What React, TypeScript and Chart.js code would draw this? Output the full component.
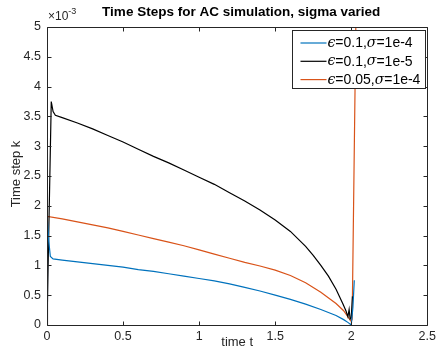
import React, { useEffect, useRef } from "react";
import { Chart, registerables } from "chart.js";

Chart.register(...registerables);

const FONT = "Helvetica, Arial, 'Liberation Sans', sans-serif";

const chartTitle = "Time Steps for AC simulation, sigma varied";
const xTitle = "time t";
const yTitle = "Time step k";
const yExponent = "-3";

const xTicks = [0, 0.5, 1, 1.5, 2, 2.5];
const yTicks = [0, 0.5, 1, 1.5, 2, 2.5, 3, 3.5, 4, 4.5, 5];

const seriesLabels = ["ϵ=0.1,σ=1e-4", "ϵ=0.1,σ=1e-5", "ϵ=0.05,σ=1e-4"];

// time t values and time step k values (in units of 1e-3)
const tBlue = [0, 0.003, 0.012, 0.022, 0.04, 0.1, 0.2, 0.3, 0.4, 0.5, 0.6, 0.7, 0.8, 0.9, 1.0, 1.1, 1.2, 1.3, 1.4, 1.5, 1.6, 1.7, 1.8, 1.85, 1.9, 1.95, 1.98, 2.0, 2.011, 2.02];
const kBlue = [0, 1.75, 1.4, 1.15, 1.11, 1.09, 1.06, 1.03, 1.0, 0.97, 0.93, 0.9, 0.86, 0.82, 0.78, 0.74, 0.69, 0.63, 0.57, 0.5, 0.43, 0.35, 0.26, 0.21, 0.16, 0.09, 0.04, 0.0, 0.3, 0.75];

const tBlack = [0, 0.028, 0.04, 0.055, 0.1, 0.2, 0.3, 0.4, 0.5, 0.6, 0.7, 0.8, 0.9, 1.0, 1.1, 1.2, 1.3, 1.4, 1.5, 1.6, 1.7, 1.75, 1.8, 1.85, 1.9, 1.944, 1.965, 1.978, 1.986, 1.993, 2.0, 2.008];
const kBlack = [0, 3.75, 3.58, 3.52, 3.48, 3.39, 3.29, 3.18, 3.07, 2.95, 2.83, 2.72, 2.6, 2.48, 2.36, 2.22, 2.08, 1.93, 1.76, 1.57, 1.32, 1.17, 1.0, 0.82, 0.6, 0.36, 0.24, 0.14, 0.26, 0.1, 0.12, 0.48];

const tOrange = [0, 0.003, 0.1, 0.2, 0.3, 0.4, 0.5, 0.6, 0.7, 0.8, 0.9, 1.0, 1.1, 1.2, 1.3, 1.4, 1.5, 1.6, 1.7, 1.8, 1.9, 1.95, 1.98, 2.0, 2.006, 2.03, 2.032];
const kOrange = [0, 1.82, 1.78, 1.73, 1.68, 1.63, 1.57, 1.51, 1.45, 1.39, 1.33, 1.26, 1.19, 1.12, 1.05, 0.99, 0.92, 0.83, 0.71, 0.55, 0.36, 0.24, 0.13, 0.06, 0.1, 5.0, 5.2];

const seriesT = [tBlue, tBlack, tOrange];
const seriesK = [kBlue, kBlack, kOrange];
const seriesColors = ["#0072BD", "#000000", "#D95319"];

const AXIS_COLOR = "#262626";

function drawMixed(ctx: CanvasRenderingContext2D, text: string, x: number, y: number) {
  let cx = x;
  for (const ch of text) {
    const greek = ch === "ϵ" || ch === "σ";
    ctx.font = greek ? "italic 14px 'DejaVu Serif', 'Liberation Serif', serif" : `14px ${FONT}`;
    ctx.fillText(ch, cx, y);
    cx += ctx.measureText(ch).width;
  }
}

const decorPlugin = {
  id: "decor",
  afterDraw(chart: any) {
    const { ctx, chartArea: ca, scales } = chart;
    const xs = scales.x;
    const ys = scales.y;
    ctx.save();
    // box
    ctx.strokeStyle = AXIS_COLOR;
    ctx.lineWidth = 1;
    const L = Math.round(ca.left) + 0.5;
    const R = Math.round(ca.right) + 0.5;
    const T = Math.round(ca.top) + 0.5;
    const B = Math.round(ca.bottom) + 0.5;
    ctx.beginPath();
    ctx.rect(L, T, R - L, B - T);
    ctx.stroke();
    // ticks inward
    const tl = 4;
    ctx.beginPath();
    for (const v of xTicks) {
      const px = Math.round(xs.getPixelForValue(v)) + 0.5;
      ctx.moveTo(px, B);
      ctx.lineTo(px, B - tl);
      ctx.moveTo(px, T);
      ctx.lineTo(px, T + tl);
    }
    for (const v of yTicks) {
      const py = Math.round(ys.getPixelForValue(v)) + 0.5;
      ctx.moveTo(L, py);
      ctx.lineTo(L + tl, py);
      ctx.moveTo(R, py);
      ctx.lineTo(R - tl, py);
    }
    ctx.stroke();

    // title
    ctx.fillStyle = "#000000";
    ctx.font = `bold 13.5px ${FONT}`;
    ctx.textAlign = "center";
    ctx.textBaseline = "middle";
    ctx.fillText(chartTitle, (ca.left + ca.right) / 2 + 4, 12);

    // exponent label
    ctx.fillStyle = AXIS_COLOR;
    ctx.textAlign = "left";
    ctx.textBaseline = "alphabetic";
    ctx.font = `12px ${FONT}`;
    ctx.fillText("×10", ca.left + 1, ca.top - 7);
    const w = ctx.measureText("×10").width;
    ctx.font = `9px ${FONT}`;
    ctx.fillText(yExponent, ca.left + 1 + w, ca.top - 13);

    // axis titles
    ctx.font = `13px ${FONT}`;
    ctx.textAlign = "center";
    ctx.textBaseline = "middle";
    ctx.fillText(xTitle, (ca.left + ca.right) / 2, 342);
    ctx.save();
    ctx.translate(16, (ca.top + ca.bottom) / 2 - 2);
    ctx.rotate(-Math.PI / 2);
    ctx.fillText(yTitle, 0, 0);
    ctx.restore();

    // legend
    const bw = 133;
    const bh = 58;
    const bx = Math.round(ca.right - 2 - bw) + 0.5;
    const by = Math.round(ca.top + 3) + 0.5;
    ctx.fillStyle = "#ffffff";
    ctx.fillRect(bx, by, bw, bh);
    ctx.strokeStyle = AXIS_COLOR;
    ctx.lineWidth = 1;
    ctx.strokeRect(bx, by, bw, bh);
    const datasets = chart.data.datasets;
    datasets.forEach((ds: any, i: number) => {
      const yy = by + 12.5 + i * 18.3;
      ctx.strokeStyle = ds.borderColor;
      ctx.lineWidth = 1.2;
      ctx.beginPath();
      ctx.moveTo(bx + 8, yy);
      ctx.lineTo(bx + 34, yy);
      ctx.stroke();
      ctx.fillStyle = "#000000";
      ctx.textAlign = "left";
      ctx.textBaseline = "middle";
      drawMixed(ctx, ds.label, bx + 35, yy + 0.5);
    });
    ctx.restore();
  },
};

export default function App() {
  const ref = useRef<HTMLCanvasElement | null>(null);
  useEffect(() => {
    if (!ref.current) return;
    const datasets = seriesLabels.map((label, i) => ({
      label,
      data: seriesT[i].map((t, j) => ({ x: t, y: seriesK[i][j] })),
      borderColor: seriesColors[i],
      backgroundColor: seriesColors[i],
      borderWidth: 1.2,
      pointRadius: 0,
      tension: 0,
      fill: false,
    }));
    const chart = new Chart(ref.current, {
      type: "line",
      data: { datasets },
      options: {
        animation: false,
        responsive: true,
        maintainAspectRatio: false,
        layout: { padding: { left: 0, right: 12, top: 27, bottom: 0 } },
        plugins: {
          legend: { display: false },
          title: { display: false },
          tooltip: { enabled: false },
        },
        scales: {
          x: {
            type: "linear",
            min: 0,
            max: 2.5,
            grid: { display: false, drawTicks: false },
            border: { display: false },
            afterBuildTicks: (s: any) => {
              s.ticks = xTicks.map((v) => ({ value: v }));
            },
            afterFit: (s: any) => {
              s.height = 23;
            },
            ticks: {
              color: AXIS_COLOR,
              font: { family: FONT, size: 12.5 },
              padding: 4,
              maxRotation: 0,
              autoSkip: false,
              callback: (v: any) => String(v),
            },
          },
          y: {
            type: "linear",
            min: 0,
            max: 5,
            grid: { display: false, drawTicks: false },
            border: { display: false },
            afterBuildTicks: (s: any) => {
              s.ticks = yTicks.map((v) => ({ value: v }));
            },
            afterFit: (s: any) => {
              s.width = 47;
            },
            ticks: {
              color: AXIS_COLOR,
              font: { family: FONT, size: 12.5 },
              padding: 6,
              autoSkip: false,
              callback: (v: any) => String(v),
            },
          },
        },
      },
      plugins: [decorPlugin],
    });
    return () => chart.destroy();
  }, []);
  return (
    <div style={{ position: "fixed", left: 0, top: 0, width: 440, height: 348, background: "#fff" }}>
      <canvas ref={ref} />
    </div>
  );
}
